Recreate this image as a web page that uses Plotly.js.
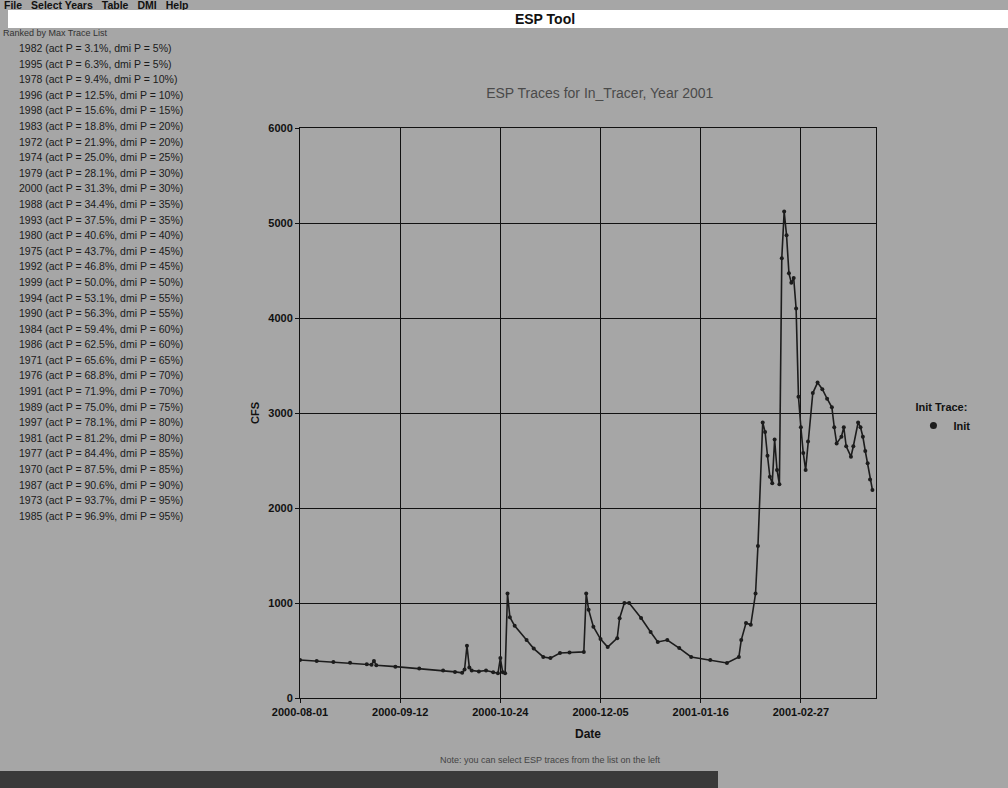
<!DOCTYPE html>
<html>
<head>
<meta charset="utf-8">
<script src="https://cdn.plot.ly/plotly-3.0.1.min.js"></script>
<style>
  html, body { margin: 0; padding: 0; }
  body { width: 1008px; height: 788px; background: #a6a6a6; position: relative; overflow: hidden;
         font-family: "Liberation Sans", Arial, sans-serif; }
  #chart { position: absolute; left: 0; top: 0; width: 1008px; height: 788px; }
  .menu { position: absolute; left: 4px; top: -1px; font-size: 10.5px; font-weight: bold; color: #111; z-index: 2; }
  .menu span { margin-right: 9px; }
  .bar { position: absolute; left: 8px; top: 10px; width: 1000px; height: 18px; background: #ffffff; z-index: 2;
         text-align: center; font-size: 14px; font-weight: bold; line-height: 18px; color: #111; }
  .bar span { position: relative; left: 37px; }
  .listhead { position: absolute; left: 3px; top: 28px; font-size: 9px; color: #333; z-index: 2; }
  .list { position: absolute; left: 19px; top: 41px; font-size: 10.5px; color: #1a1a1a; z-index: 2; line-height: 15.6px; }
  .note { position: absolute; left: 440px; top: 755px; font-size: 9px; color: #444; z-index: 2; }
  .status { position: absolute; left: 0; top: 771px; width: 718px; height: 17px; background: #3a3a3a; z-index: 2; }
</style>
</head>
<body>
<div id="chart"></div>
<div class="menu" id="menu"></div>
<div class="bar"><span id="apptitle"></span></div>
<div class="listhead" id="listhead"></div>
<div class="list" id="list"></div>
<div class="note" id="note"></div>
<div class="status"></div>
<script>
// ---- data ----
const menuItems = ["File", "Select Years", "Table", "DMI", "Help"];
const appTitle = "ESP Tool";
const listHeader = "Ranked by Max Trace List";
const traceYears = [1982, 1995, 1978, 1996, 1998, 1983, 1972, 1974, 1979, 2000, 1988, 1993, 1980, 1975, 1992, 1999,
                    1994, 1990, 1984, 1986, 1971, 1976, 1991, 1989, 1997, 1981, 1977, 1970, 1987, 1973, 1985];
const actP = ["3.1", "6.3", "9.4", "12.5", "15.6", "18.8", "21.9", "25.0", "28.1", "31.3", "34.4", "37.5", "40.6", "43.7",
              "46.8", "50.0", "53.1", "56.3", "59.4", "62.5", "65.6", "68.8", "71.9", "75.0", "78.1", "81.2", "84.4",
              "87.5", "90.6", "93.7", "96.9"];
const dmiP = [5, 5, 10, 10, 15, 20, 20, 25, 30, 30, 35, 35, 40, 45, 45, 50, 55, 55, 60, 60, 65, 70, 70, 75, 80, 80, 85,
              85, 90, 95, 95];
const noteText = "Note: you can select ESP traces from the list on the left";

const chartTitle = "ESP Traces for In_Tracer, Year 2001";
const xTitle = "Date";
const yTitle = "CFS";
const legendTitle = "Init Trace:";
const seriesName = "Init";

const dates = [
  "2000-08-01", "2000-08-08", "2000-08-15", "2000-08-22", "2000-08-29", "2000-08-31", "2000-09-01", "2000-09-02",
  "2000-09-10", "2000-09-20", "2000-09-30", "2000-10-05", "2000-10-08", "2000-10-09", "2000-10-10", "2000-10-11",
  "2000-10-12", "2000-10-15", "2000-10-18", "2000-10-21", "2000-10-23", "2000-10-24", "2000-10-25", "2000-10-26",
  "2000-10-27", "2000-10-28", "2000-10-30", "2000-11-04", "2000-11-07", "2000-11-11", "2000-11-14", "2000-11-18",
  "2000-11-22", "2000-11-28", "2000-11-29", "2000-11-30", "2000-12-02", "2000-12-05", "2000-12-08", "2000-12-12",
  "2000-12-13", "2000-12-15", "2000-12-17", "2000-12-22", "2000-12-26", "2000-12-29", "2001-01-02", "2001-01-07",
  "2001-01-12", "2001-01-20", "2001-01-27", "2001-02-01", "2001-02-02", "2001-02-04", "2001-02-06", "2001-02-08",
  "2001-02-09", "2001-02-11", "2001-02-12", "2001-02-13", "2001-02-14", "2001-02-15", "2001-02-16", "2001-02-17",
  "2001-02-18", "2001-02-19", "2001-02-20", "2001-02-21", "2001-02-22", "2001-02-23", "2001-02-24", "2001-02-25",
  "2001-02-26", "2001-02-27", "2001-02-28", "2001-03-01", "2001-03-02", "2001-03-04", "2001-03-06", "2001-03-08",
  "2001-03-10", "2001-03-12", "2001-03-13", "2001-03-14", "2001-03-16", "2001-03-17", "2001-03-18", "2001-03-20",
  "2001-03-21", "2001-03-23", "2001-03-24", "2001-03-25", "2001-03-26", "2001-03-27", "2001-03-28", "2001-03-29"
];
const flows = [
  400, 390, 380, 370, 355, 350, 390, 345,
  330, 310, 290, 275, 265, 300, 550, 320,
  290, 280, 290, 270, 260, 420, 270, 260,
  1100, 850, 760, 610, 520, 432, 420, 473,
  480, 485, 1100, 930, 750, 620, 537, 630,
  840, 1000, 1000, 842, 695, 590, 610, 526,
  432, 400, 368, 432, 610, 790, 770, 1100,
  1600, 2900, 2800, 2550, 2330, 2260, 2720, 2400,
  2250, 4630, 5120, 4870, 4470, 4370, 4420, 4100,
  3170, 2850, 2580, 2400, 2700, 3210, 3320, 3250,
  3150, 3060, 2850, 2680, 2750, 2850, 2650, 2540,
  2650, 2900, 2850, 2750, 2600, 2470, 2300, 2190
];
const xTick0 = "2000-08-01";
const xRange = ["2000-08-01", "2001-03-30 12:00"];
const yRange = [0, 6000];

// ---- page chrome ----
const menuEl = document.getElementById("menu");
menuItems.forEach(m => { const s = document.createElement("span"); s.textContent = m; menuEl.appendChild(s); });
document.getElementById("apptitle").textContent = appTitle;
document.getElementById("listhead").textContent = listHeader;
document.getElementById("note").textContent = noteText;
const listEl = document.getElementById("list");
traceYears.forEach((yr, i) => {
  const d = document.createElement("div");
  d.textContent = yr + " (act P = " + actP[i] + "%, dmi P = " + dmiP[i] + "%)";
  listEl.appendChild(d);
});

// ---- chart ----
const FAM = "Liberation Sans, Arial, sans-serif";
const tickFont = { family: FAM, size: 11, color: "#111", weight: "bold" };
const trace = {
  x: dates, y: flows, type: "scatter", mode: "lines+markers", name: seriesName, showlegend: false,
  line: { color: "#1c1c1c", width: 1.6 },
  marker: { color: "#1c1c1c", size: 4 }
};
const legendKey = {
  x: [null], y: [null], type: "scatter", mode: "markers", name: seriesName, showlegend: true,
  marker: { color: "#1c1c1c", size: 7 }
};
const layout = {
  width: 1008, height: 788,
  margin: { l: 300, r: 132, t: 128, b: 90 },
  paper_bgcolor: "rgba(0,0,0,0)", plot_bgcolor: "rgba(0,0,0,0)",
  title: { text: chartTitle, x: 0.595, xanchor: "center", y: 0.882, yanchor: "middle",
           font: { family: FAM, size: 14, color: "#4a4a4a" } },
  xaxis: {
    type: "date", range: xRange, tick0: xTick0, dtick: 42 * 86400000, tickformat: "%Y-%m-%d",
    showgrid: true, gridcolor: "#111", gridwidth: 1, showline: true, linecolor: "#111", linewidth: 1, mirror: true,
    ticks: "outside", ticklen: 4, tickcolor: "#111", tickfont: tickFont, zeroline: false,
    title: { text: xTitle, font: { family: FAM, size: 12, color: "#111", weight: "bold" }, standoff: 12 }
  },
  yaxis: {
    range: yRange, dtick: 1000, showgrid: true, gridcolor: "#111", gridwidth: 1, showline: true, linecolor: "#111",
    linewidth: 1, mirror: true, ticks: "outside", ticklen: 4, tickcolor: "#111", tickfont: tickFont, zeroline: false,
    title: { text: yTitle, font: { family: FAM, size: 11, color: "#111", weight: "bold" }, standoff: 6 }
  },
  showlegend: true,
  legend: { x: 1.065, y: 0.49, xanchor: "left", yanchor: "middle", bgcolor: "rgba(0,0,0,0)",
            title: { text: legendTitle, font: { family: FAM, size: 11, color: "#111", weight: "bold" } },
            font: { family: FAM, size: 11, color: "#111", weight: "bold" },
            itemwidth: 30, tracegroupgap: 0 }
};
Plotly.newPlot("chart", [trace, legendKey], layout, { displayModeBar: false, staticPlot: true });
</script>
</body>
</html>
